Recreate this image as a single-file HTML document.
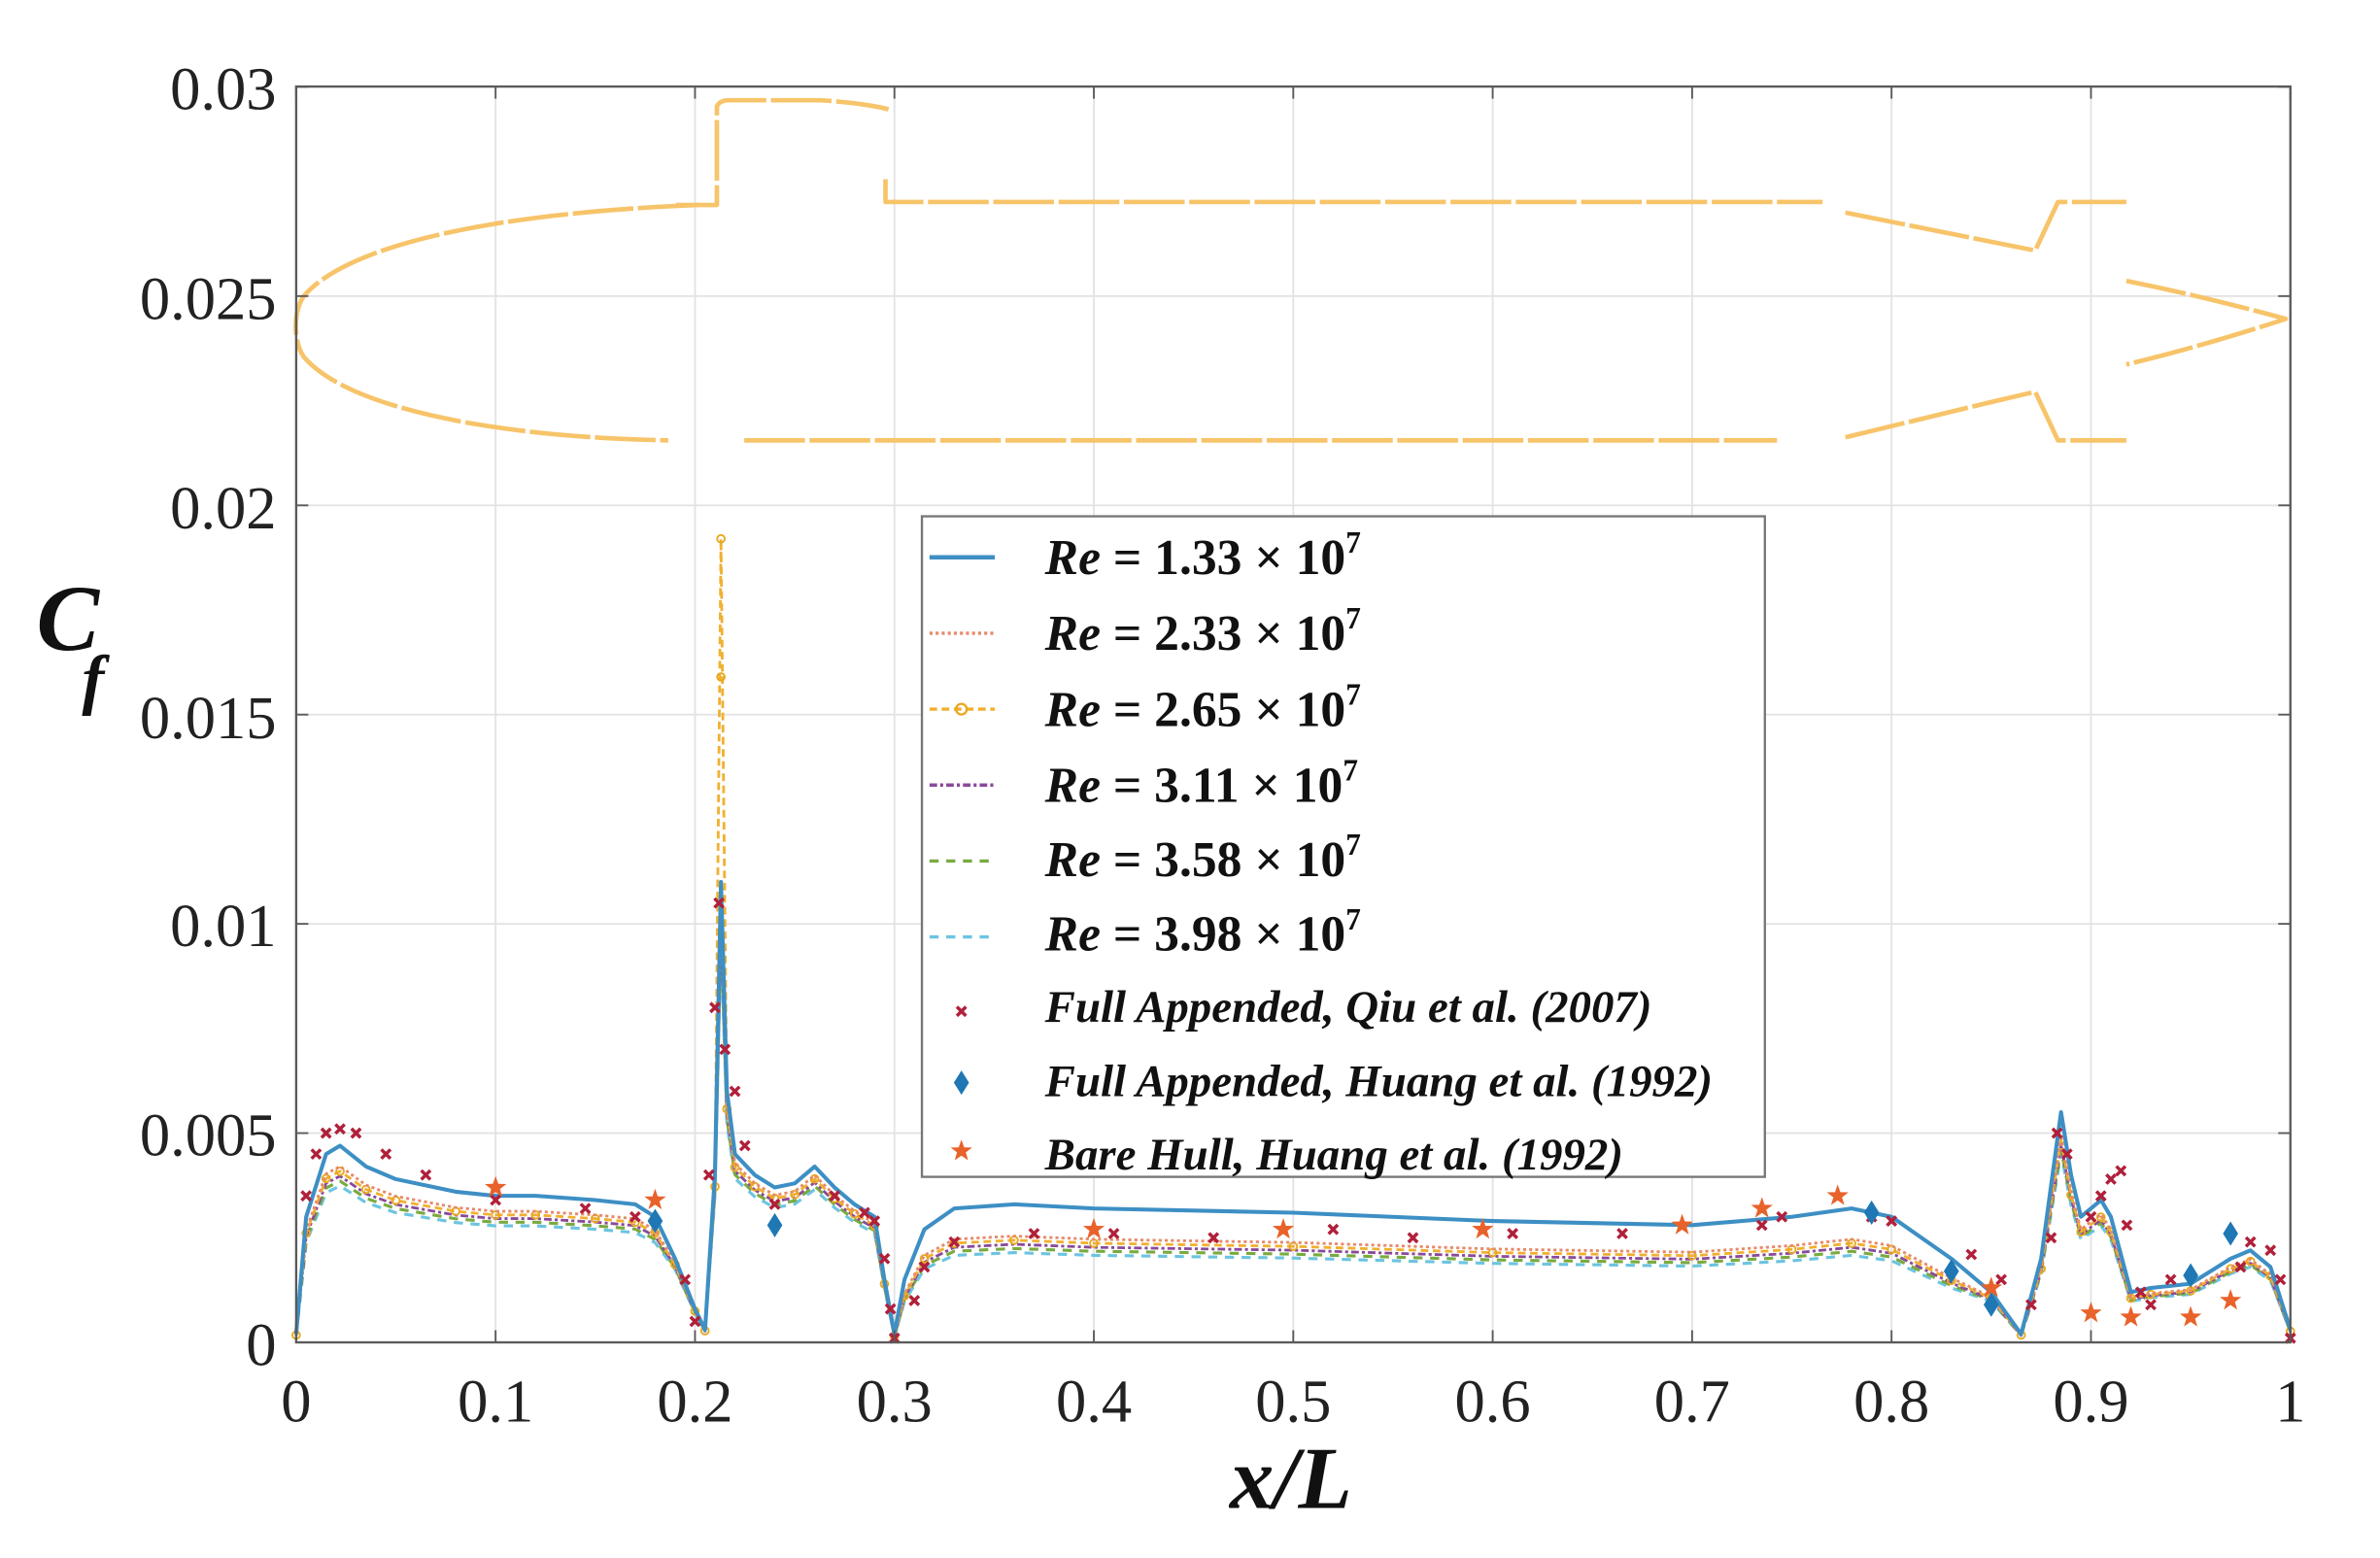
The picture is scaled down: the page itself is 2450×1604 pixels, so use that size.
<!DOCTYPE html>
<html><head><meta charset="utf-8"><style>
html,body{margin:0;padding:0;background:#fff;width:2450px;height:1604px;overflow:hidden}
svg{display:block}
</style></head><body>
<svg id="s" xmlns="http://www.w3.org/2000/svg" width="2450" height="1604" viewBox="0 0 1567 1026" preserveAspectRatio="none">
<rect x="0" y="0" width="1567" height="1026" fill="#fff"/>
<g id="grid" stroke="#e3e3e3" stroke-width="1.2"></g>
<g fill="none" stroke="#f7c46a" stroke-width="3" stroke-linejoin="round" stroke-dasharray="40 3">
<path d="M460,135 C330,140 230,160 200,195 C193,205 193,225 200,235 C230,270 330,288 440,290"/>
<path d="M445,135 L472,135 L472,70 Q474,66 480,66 L540,66 Q570,68 585,72"/>
<path d="M583,118 L583,133 L1200,133"/>
<path d="M1215,140 L1340,165 L1355,133 L1400,133"/>
<path d="M490,290 L1170,290"/>
<path d="M1215,288 L1310,265 L1340,258 L1355,290 L1400,290"/>
<path d="M1400,185 Q1450,195 1505,210 Q1450,228 1400,240"/>
</g>
<g id="curves" fill="none" stroke-linejoin="round"></g>
<g id="marks"></g>
<rect x="195" y="57" width="1313" height="827" fill="none" stroke="#5a5a5a" stroke-width="1.5"/>
<g id="ticks" stroke="#5a5a5a" stroke-width="1.2"></g>
<g font-family="Liberation Serif, serif" font-size="40" fill="#222" text-anchor="end">
<text x="182" y="72">0.03</text>
<text x="182" y="210">0.025</text>
<text x="182" y="348">0.02</text>
<text x="182" y="486">0.015</text>
<text x="182" y="623">0.01</text>
<text x="182" y="761">0.005</text>
<text x="182" y="899">0</text>
</g>
<g id="xl" font-family="Liberation Serif, serif" font-size="40" fill="#222" text-anchor="middle"></g>
<text x="850" y="993" font-family="Liberation Serif, serif" font-size="58" font-weight="bold" font-style="italic" text-anchor="middle" fill="#111">x/L</text>
<text x="24" y="428" font-family="Liberation Serif, serif" font-size="62" font-weight="bold" font-style="italic" fill="#111">C</text>
<text x="54" y="462" font-family="Liberation Serif, serif" font-size="44" font-weight="bold" font-style="italic" fill="#111">f</text>
<rect x="607" y="340" width="555" height="435" fill="#fff" stroke="#777" stroke-width="1.5"/>
<g stroke-width="2.2">
<line x1="612" y1="367" x2="655" y2="367" stroke="#3d8fc4" stroke-width="2.8"/>
<line x1="612" y1="417" x2="655" y2="417" stroke="#e58a6a" stroke-dasharray="2 2"/>
<line x1="612" y1="467" x2="655" y2="467" stroke="#f0b030" stroke-dasharray="5 3"/>
<circle cx="633" cy="467" r="3.5" fill="none" stroke="#e9a820" stroke-width="1.5"/>
<line x1="612" y1="517" x2="655" y2="517" stroke="#8a4a9a" stroke-dasharray="5 2 2 2"/>
<line x1="612" y1="567" x2="655" y2="567" stroke="#7aaa40" stroke-dasharray="6 5"/>
<line x1="612" y1="617" x2="655" y2="617" stroke="#6cc4e0" stroke-dasharray="6 5"/>
</g>
<g font-family="Liberation Serif, serif" font-size="33" font-weight="bold" fill="#111">
<text x="688" y="378"><tspan font-style="italic">Re</tspan> = 1.33 × 10<tspan font-size="20" dy="-14">7</tspan></text>
<text x="688" y="428"><tspan font-style="italic">Re</tspan> = 2.33 × 10<tspan font-size="20" dy="-14">7</tspan></text>
<text x="688" y="478"><tspan font-style="italic">Re</tspan> = 2.65 × 10<tspan font-size="20" dy="-14">7</tspan></text>
<text x="688" y="528"><tspan font-style="italic">Re</tspan> = 3.11 × 10<tspan font-size="20" dy="-14">7</tspan></text>
<text x="688" y="577"><tspan font-style="italic">Re</tspan> = 3.58 × 10<tspan font-size="20" dy="-14">7</tspan></text>
<text x="688" y="626"><tspan font-style="italic">Re</tspan> = 3.98 × 10<tspan font-size="20" dy="-14">7</tspan></text>
<g font-style="italic" font-size="30">
<text x="688" y="673">Full Appended, Qiu et al. (2007)</text>
<text x="688" y="722">Full Appended, Huang et al. (1992)</text>
<text x="688" y="770">Bare Hull, Huang et al. (1992)</text>
</g>
</g>
<g id="legm"></g>
</svg>
<script>
var NS="http://www.w3.org/2000/svg";
function X(v){return 195+1313*v}
function Y(c){return 884-c*27560}
function el(t,a,p){var e=document.createElementNS(NS,t);for(var k in a)e.setAttribute(k,a[k]);document.getElementById(p).appendChild(e);return e}
for(var i=1;i<10;i++){el('line',{x1:X(i/10),y1:57,x2:X(i/10),y2:884},'grid');}
for(var j=1;j<6;j++){el('line',{x1:195,y1:Y(j*0.005),x2:1508,y2:Y(j*0.005)},'grid');}
for(var i=0;i<=10;i++){var t=el('text',{x:X(i/10),y:936},'xl');t.textContent=i==0?'0':i==10?'1':'0.'+i;
 el('line',{x1:X(i/10),y1:884,x2:X(i/10),y2:876},'ticks');el('line',{x1:X(i/10),y1:57,x2:X(i/10),y2:65},'ticks');}
for(var j=0;j<=6;j++){el('line',{x1:195,y1:Y(j*0.005),x2:203,y2:Y(j*0.005)},'ticks');el('line',{x1:1508,y1:Y(j*0.005),x2:1500,y2:Y(j*0.005)},'ticks');}
var B=[[0,0.0002],[0.005,0.003],[0.015,0.0045],[0.022,0.0047],[0.035,0.0042],[0.05,0.0039],[0.08,0.0036],[0.1,0.0035],[0.12,0.0035],[0.15,0.0034],[0.17,0.0033],[0.18,0.003],[0.19,0.002],[0.2,0.0008],[0.205,0.0003],[0.21,0.004],[0.213,0.011],[0.216,0.006],[0.22,0.0045],[0.23,0.004],[0.24,0.0037],[0.25,0.0038],[0.26,0.0042],[0.27,0.0037],[0.28,0.0033],[0.29,0.003],[0.295,0.0015],[0.3,0.0002],[0.305,0.0015],[0.315,0.0027],[0.33,0.0032],[0.36,0.0033],[0.4,0.0032],[0.5,0.0031],[0.6,0.0029],[0.7,0.0028],[0.75,0.003],[0.78,0.0032],[0.8,0.003],[0.83,0.002],[0.85,0.0012],[0.865,0.0002],[0.875,0.002],[0.885,0.0055],[0.89,0.004],[0.895,0.003],[0.905,0.0034],[0.91,0.003],[0.92,0.0012],[0.93,0.0013],[0.95,0.0014],[0.97,0.002],[0.98,0.0022],[0.99,0.0018],[1,0.0003]];
function fac(v,k){var a;if(v<0.19)a=0.92-k*0.025;else if(v<0.3)a=0.97-k*0.02;else if(v<0.84)a=0.8-k*0.03;else a=0.92-k*0.02;return a}
var S=[['#3d8fc4',2.6,'',0],['#e58a6a',1.8,'2 2',1],['#f0b030',1.8,'5 3',2],['#8a4a9a',1.8,'5 2 2 2',3],['#7aaa40',2,'6 5',4],['#6cc4e0',2,'6 5',5]];
for(var s=S.length-1;s>=0;s--){var pts=B.map(function(p){var f=s==0?1:fac(p[0],S[s][3]);var c=p[1]*f;if(p[0]==0.213&&s==2)c=0.0192;return X(p[0]).toFixed(1)+','+Y(c).toFixed(1)}).join(' ');
 el('polyline',{points:pts,stroke:S[s][0],'stroke-width':S[s][1],'stroke-dasharray':S[s][2]},'curves');
 if(s==2){for(var q=0;q<B.length;q++){var p=B[q];var c=p[1]*fac(p[0],2);if(p[0]==0.213)c=0.0192;el('circle',{cx:X(p[0]),cy:Y(c),r:2.5,fill:'none',stroke:'#e9a820','stroke-width':1.2},'curves');}
  el('circle',{cx:X(0.213),cy:Y(0.0159),r:2.5,fill:'none',stroke:'#e9a820','stroke-width':1.2},'curves');}
}
function cross(x,y,g){el('path',{d:'M'+(x-3)+','+(y-3)+'L'+(x+3)+','+(y+3)+'M'+(x+3)+','+(y-3)+'L'+(x-3)+','+(y+3),stroke:'#b0203a','stroke-width':2.2},g||'marks')}
function dia(x,y,g){el('path',{d:'M'+x+','+(y-8)+'L'+(x+5)+','+y+'L'+x+','+(y+8)+'L'+(x-5)+','+y+'Z',fill:'#1f77b4'},g||'marks')}
function star(x,y,g){var d='';for(var i=0;i<10;i++){var r=i%2?3:7.5,a=-Math.PI/2+i*Math.PI/5;d+=(i?'L':'M')+(x+r*Math.cos(a)).toFixed(1)+','+(y+r*Math.sin(a)).toFixed(1)}el('path',{d:d+'Z',fill:'#e8622a'},g||'marks')}
var Q=[[0.005,0.0035],[0.01,0.0045],[0.015,0.005],[0.022,0.0051],[0.03,0.005],[0.045,0.0045],[0.065,0.004],[0.1,0.0034],[0.145,0.0032],[0.17,0.003],[0.195,0.0015],[0.2,0.0005],[0.207,0.004],[0.21,0.008],[0.212,0.0105],[0.215,0.007],[0.22,0.006],[0.225,0.0047],[0.24,0.0033],[0.27,0.0035],[0.285,0.0031],[0.29,0.0029],[0.295,0.002],[0.298,0.0008],[0.3,0.0001],[0.31,0.001],[0.315,0.0018],[0.33,0.0024],[0.37,0.0026],[0.41,0.0026],[0.46,0.0025],[0.52,0.0027],[0.56,0.0025],[0.61,0.0026],[0.665,0.0026],[0.735,0.0028],[0.745,0.003],[0.79,0.003],[0.8,0.0029],[0.84,0.0021],[0.855,0.0015],[0.87,0.0009],[0.88,0.0025],[0.883,0.005],[0.888,0.0045],[0.9,0.003],[0.905,0.0035],[0.91,0.0039],[0.915,0.0041],[0.918,0.0028],[0.925,0.0012],[0.93,0.0009],[0.94,0.0015],[0.975,0.0018],[0.98,0.0024],[0.99,0.0022],[0.995,0.0015],[1,0.0001]];
Q.forEach(function(p){cross(X(p[0]),Y(p[1]))});
[[0.18,0.0029],[0.24,0.0028],[0.79,0.0031],[0.83,0.0017],[0.85,0.0009],[0.95,0.0016],[0.97,0.0026]].forEach(function(p){dia(X(p[0]),Y(p[1]))});
[[0.1,0.0037],[0.18,0.0034],[0.4,0.0027],[0.495,0.0027],[0.595,0.0027],[0.695,0.0028],[0.735,0.0032],[0.773,0.0035],[0.85,0.0013],[0.9,0.0007],[0.92,0.0006],[0.95,0.0006],[0.97,0.001]].forEach(function(p){star(X(p[0]),Y(p[1]))});
cross(633,666,'legm');dia(633,713,'legm');star(633,758,'legm');
</script>
</body></html>
